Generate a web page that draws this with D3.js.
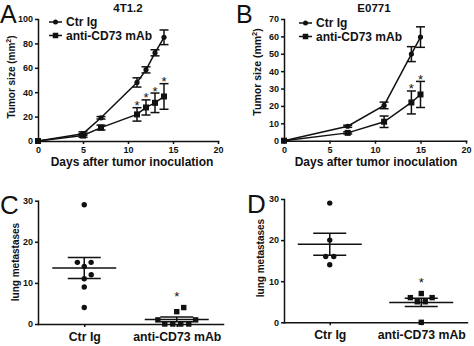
<!DOCTYPE html>
<html>
<head>
<meta charset="utf-8">
<script src="https://cdn.jsdelivr.net/npm/d3@7"></script>
<style>
  html, body { margin: 0; padding: 0; background: #fff; }
  svg { display: block; font-family: Arial, "Liberation Sans", sans-serif; }
</style>
</head>
<body>
<svg id="fig" width="474" height="346"></svg>
<script>
// Panel A: 4T1.2 tumor growth
const daysA = [0, 5, 7, 11, 12, 13, 14];
const ctrA = [0, 6, 19, 48, 58.3, 72.3, 85];
const ctrAErr = [0, 1.5, 1, 3.8, 2.5, 2.5, 6];
const antiA = [0, 4.5, 11, 21.8, 27.5, 31.3, 36.5];
const antiAErr = [0, 1.5, 2, 5.5, 6.2, 8, 10.5];
const starDaysA = [11, 12, 13, 14];

// Panel B: E0771 tumor growth
const daysB = [0, 7, 11, 14, 15];
const ctrB = [0, 8.3, 20.3, 49.8, 59.6];
const ctrBErr = [0, 0.6, 1.9, 4.3, 5.9];
const antiB = [0, 4.5, 10.9, 22, 26.6];
const antiBErr = [0, 0.6, 3.3, 6.6, 7.5];
const starDaysB = [14, 15];

// Panels C and D: lung metastases per mouse
const groups = ["Ctr Ig", "anti-CD73 mAb"];
const metCtrC = [29, 15, 15, 14, 12, 11, 9, 4];
const metAntiC = [4, 3, 1, 1, 0, 0, 0, 0];
const metCtrD = [29, 20, 16, 16, 14];
const metAntiD = [7, 6, 6, 5, 5, 0];

const svg = d3.select("#fig");
const BOLD = "bold";

function axisStyle(g) {
    g.selectAll("path, line").attr("stroke", "#111").attr("stroke-width", 1.5);
    g.selectAll("text").attr("font-size", 9).attr("font-weight", BOLD).attr("fill", "#111");
    g.select(".domain").attr("stroke-linecap", "square");
}

function errBar(g, x, y0, y1, cap) {
    g.append("line").attr("x1", x).attr("x2", x).attr("y1", y0).attr("y2", y1);
    g.append("line").attr("x1", x - cap).attr("x2", x + cap).attr("y1", y0).attr("y2", y0);
    g.append("line").attr("x1", x - cap).attr("x2", x + cap).attr("y1", y1).attr("y2", y1);
}

function marker(g, shape, x, y, s) {
    if (shape === "circle") {
        g.append("circle").attr("cx", x).attr("cy", y).attr("r", s / 2).attr("fill", "#111");
    } else {
        g.append("rect").attr("x", x - s / 2).attr("y", y - s / 2)
            .attr("width", s).attr("height", s).attr("fill", "#111");
    }
}

// Line chart with error bars and legend
function growthPanel(opt) {
    const x = d3.scaleLinear().domain([0, 20]).range(opt.xr);
    const y = d3.scaleLinear().domain([0, opt.ymax]).range(opt.yr);
    const g = svg.append("g");

    g.append("g").attr("transform", `translate(0,${opt.yr[0]})`)
        .call(d3.axisBottom(x).tickValues([0, 5, 10, 15, 20]).tickSize(3).tickSizeOuter(0).tickPadding(3))
        .call(axisStyle);
    g.append("g").attr("transform", `translate(${opt.xr[0]},0)`)
        .call(d3.axisLeft(y).ticks(opt.ymax / opt.ystep).tickSize(3).tickSizeOuter(0).tickPadding(2))
        .call(axisStyle);

    const series = [
        { vals: opt.ctr, err: opt.ctrErr, shape: "circle", size: 5.2 },
        { vals: opt.anti, err: opt.antiErr, shape: "square", size: 6 }
    ];
    const line = d3.line().x(d => x(d[0])).y(d => y(d[1]));
    series.forEach(s => {
        const pts = opt.days.map((d, i) => [d, s.vals[i], s.err[i]]);
        g.append("path").datum(pts).attr("d", line)
            .attr("fill", "none").attr("stroke", "#111").attr("stroke-width", 1.5);
        const eb = g.append("g").attr("stroke", "#111").attr("stroke-width", 1.5);
        pts.forEach(p => {
            if (p[2] > 0) errBar(eb, x(p[0]), y(p[1] + p[2]), y(p[1] - p[2]), 4.5);
            marker(g, s.shape, x(p[0]), y(p[1]), s.size);
        });
    });

    // significance marks over the treated series
    opt.stars.forEach(d => {
        const i = opt.days.indexOf(d);
        g.append("text").attr("x", x(d)).attr("y", y(opt.anti[i] + opt.antiErr[i]) + 2.5)
            .attr("text-anchor", "middle").attr("font-size", 13).attr("fill", "#111").text("*");
    });

    // legend
    const lg = g.append("g").attr("transform", `translate(${opt.legend[0]},${opt.legend[1]})`);
    series.forEach((s, i) => {
        const ly = i * 13.5;
        lg.append("line").attr("x1", 0).attr("x2", 13).attr("y1", ly).attr("y2", ly)
            .attr("stroke", "#111").attr("stroke-width", 1.5);
        marker(lg, s.shape, 6.5, ly, s.shape === "circle" ? 5 : 5.5);
        lg.append("text").attr("x", 17).attr("y", ly + 4.3)
            .attr("font-size", 12).attr("font-weight", BOLD).attr("fill", "#111")
            .text(groups[i]);
    });

    g.append("text").attr("x", opt.title[0]).attr("y", opt.title[1])
        .attr("text-anchor", "middle").attr("font-size", 11.5).attr("font-weight", BOLD)
        .attr("fill", "#111").text(opt.name);

    g.append("text").attr("x", opt.xlab[0]).attr("y", opt.xlab[1])
        .attr("text-anchor", "middle").attr("font-size", 12).attr("font-weight", BOLD)
        .attr("fill", "#111").text("Days after tumor inoculation");

    const yl = g.append("text")
        .attr("transform", `translate(${opt.ylab[0]},${opt.ylab[1]}) rotate(-90)`)
        .attr("text-anchor", "middle").attr("font-size", opt.ylabSize).attr("font-weight", BOLD)
        .attr("fill", "#111");
    yl.append("tspan").text("Tumor size (mm");
    yl.append("tspan").attr("font-size", opt.ylabSize * 0.7).attr("dy", -4).text("2");
    yl.append("tspan").attr("dy", 4).text(")");

    g.append("text").attr("x", opt.letter[0]).attr("y", opt.letter[1])
        .attr("font-size", 25).attr("fill", "#111").text(opt.letterText);
}

// Place points of one group side by side, spreading equal values symmetrically
function dodge(vals, y, d) {
    const placed = [];
    const byVal = d3.groups(vals, v => v).sort((a, b) => a[0] - b[0]);
    const clear = (dx, py) => placed.every(p => Math.hypot(p.dx - dx, p.py - py) >= d - 0.01);
    byVal.forEach(([v, list]) => {
        const py = y(v);
        const n = list.length;
        if (n === 1) {
            for (let k = 0; k < 200; k++) {
                const cand = k === 0 ? [0] : [k * 0.25, -k * 0.25];
                const hit = cand.find(c => clear(c, py));
                if (hit !== undefined) { placed.push({ v, py, dx: hit }); break; }
            }
        } else {
            for (let s = d; s < 80; s += 0.25) {
                const offs = d3.range(n).map(i => (i - (n - 1) / 2) * s);
                if (offs.every(o => clear(o, py))) {
                    offs.forEach(o => placed.push({ v, py, dx: o }));
                    break;
                }
            }
        }
    });
    return placed;
}

// Scatter with mean and SEM
function metPanel(opt) {
    const x = d3.scalePoint().domain(groups).range(opt.xr).padding(0.5);
    const y = d3.scaleLinear().domain([0, 30]).range(opt.yr);
    const g = svg.append("g");

    g.append("g").attr("transform", `translate(0,${opt.yr[0]})`)
        .call(d3.axisBottom(x).tickSize(3).tickSizeOuter(0).tickPadding(5))
        .call(axisStyle)
        .call(a => a.selectAll("text").attr("font-size", 12.3));
    g.append("g").attr("transform", `translate(${opt.xr[0]},0)`)
        .call(d3.axisLeft(y).tickValues([0, 10, 20, 30]).tickSize(3).tickSizeOuter(0).tickPadding(2))
        .call(axisStyle);

    [opt.ctr, opt.anti].forEach((vals, gi) => {
        const cx = x(groups[gi]);
        const mean = d3.mean(vals);
        const sem = d3.deviation(vals) / Math.sqrt(vals.length);
        const st = g.append("g").attr("stroke", "#111").attr("stroke-width", 1.5);
        st.append("line").attr("x1", cx - 32).attr("x2", cx + 32)
            .attr("y1", y(mean)).attr("y2", y(mean));
        errBar(st, cx, y(mean + sem), y(mean - sem), 16.5);

        dodge(vals, y, 8).forEach(p => {
            marker(g, gi === 0 ? "circle" : "square", cx + p.dx, p.py, 5.4);
        });

        if (gi === 1) {
            g.append("text").attr("x", cx).attr("y", y(d3.max(vals)) - 6.5)
                .attr("text-anchor", "middle").attr("font-size", 13).attr("fill", "#111").text("*");
        }
    });

    g.append("text")
        .attr("transform", `translate(${opt.ylab[0]},${opt.ylab[1]}) rotate(-90)`)
        .attr("text-anchor", "middle").attr("font-size", 10).attr("font-weight", BOLD)
        .attr("fill", "#111").text("lung metastases");

    g.append("text").attr("x", opt.letter[0]).attr("y", opt.letter[1])
        .attr("font-size", 26).attr("fill", "#111").text(opt.letterText);
}

growthPanel({
    name: "4T1.2", letterText: "A", days: daysA, ctr: ctrA, ctrErr: ctrAErr,
    anti: antiA, antiErr: antiAErr, stars: starDaysA, ymax: 100, ystep: 20,
    xr: [38, 218], yr: [141, 19], legend: [49, 22], title: [128, 12],
    xlab: [132, 166], ylab: [15, 77], ylabSize: 10, letter: [0, 23]
});

growthPanel({
    name: "E0771", letterText: "B", days: daysB, ctr: ctrB, ctrErr: ctrBErr,
    anti: antiB, antiErr: antiBErr, stars: starDaysB, ymax: 70, ystep: 10,
    xr: [284, 466], yr: [140.7, 19], legend: [299, 23], title: [374, 12],
    xlab: [376, 166], ylab: [261, 72], ylabSize: 10.5, letter: [236, 23]
});

metPanel({
    letterText: "C", ctr: metCtrC, anti: metAntiC,
    xr: [38, 223], yr: [324, 200.7], ylab: [19, 262], letter: [0, 214]
});

metPanel({
    letterText: "D", ctr: metCtrD, anti: metAntiD,
    xr: [284, 467], yr: [322.3, 199], ylab: [264, 258], letter: [247, 213]
});
</script>
</body>
</html>
